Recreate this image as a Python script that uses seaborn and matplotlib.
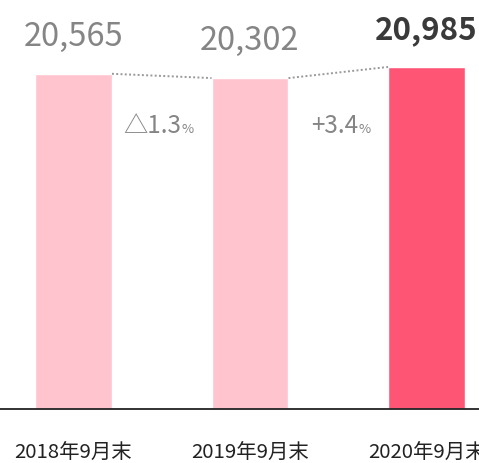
import matplotlib
matplotlib.use("Agg")
import matplotlib.pyplot as plt
import matplotlib.transforms as mtransforms
import seaborn as sns
import pandas as pd

# data
periods = ["2018年9月末", "2019年9月末", "2020年9月末"]
values = [20565, 20302, 20985]
changes = ["△1.3", "+3.4"]
bar_colors = ["#ffc4ce", "#ffc4ce", "#ff5575"]

sns.set_style("white")
plt.rcParams['font.family'] = ['Noto Sans CJK JP', 'DejaVu Sans']

df = pd.DataFrame({"period": periods, "value": values})

fig = plt.figure(figsize=(4.79, 4.64), dpi=100)
ax = fig.add_axes([0, 54 / 464, 1, 410 / 464])

sns.barplot(data=df, x="period", y="value", hue="period", palette=bar_colors,
            width=0.436, legend=False, ax=ax, saturation=1)

ax.set_xlim(-0.4164, 2.2975)
ax.set_ylim(0, 410 * 61.35)

# dotted connectors between bar tops
hw = 0.436 / 2
for i in range(len(values) - 1):
    ax.plot([i + hw, i + 1 - hw], [values[i], values[i + 1]],
            color="#999999", linestyle=(0, (1, 1.2)), linewidth=1.4)

# value labels
for i, v in enumerate(values):
    last = i == len(values) - 1
    ax.annotate(f"{v:,}", xy=(i, v), xytext=(0, 21), textcoords="offset points",
                ha="center", va="baseline", fontsize=22.5 if last else 23.5,
                fontweight="bold" if last else "normal",
                color="#3a3a3a" if last else "#858585")

# change labels
trans = mtransforms.blended_transform_factory(ax.transData, ax.transAxes)
for i, c in enumerate(changes):
    xm = i + 0.5 + 0.113
    ax.text(xm, 0.6756, c, transform=trans, ha="right", va="baseline",
            fontsize=17.5, color="#858585")
    ax.text(xm, 0.6756, "%", transform=trans, ha="left", va="baseline",
            fontsize=9.5, color="#858585")

sns.despine(ax=ax, left=True)
ax.spines["bottom"].set_color("#222222")
ax.spines["bottom"].set_linewidth(1.3)
ax.set_yticks([])
ax.set_xlabel("")
ax.set_ylabel("")
ax.tick_params(axis="x", length=0, pad=23, labelsize=14.7, labelcolor="#222222")

fig.savefig("out.png", dpi=100)
